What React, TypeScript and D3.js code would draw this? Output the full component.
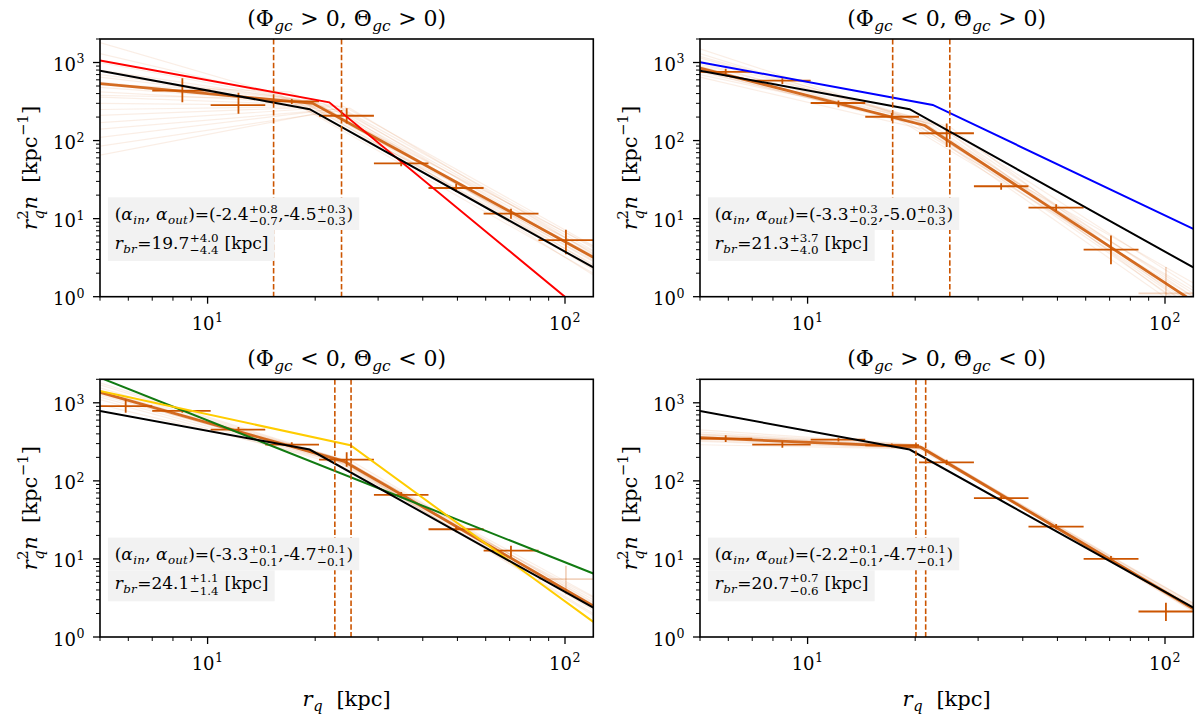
import React, { useRef, useEffect } from "react";
import * as d3 from "d3";

// radial bins in kpc
const binLo = [4.9, 7.0, 10.2, 14.5, 20.5, 29.2, 41.5, 59.2, 84.3];
const binHi = [7.0, 10.2, 14.5, 20.5, 29.2, 41.5, 59.2, 84.3, 121];
const binMid = [5.9, 8.5, 12.2, 17.2, 24.5, 34.8, 49.6, 70.6, 100.6];

// r_q^2 n per bin: [value, lower, upper], null = not shown
type Pt = [number, number, number] | null;
const pointsP1: Pt[] = [null, [435, 309, 627], [284, 220, 410], [318, 295, 340], [208, 166, 260], [51, 47, 55], [24.7, 22, 28], [11.6, 10, 13.4], [5.3, 3.5, 7.2]];
const pointsP2: Pt[] = [[760, 700, 830], [585, 530, 627], [303, 267, 325], [202, 180, 225], [124, 83, 166], [26, 23.5, 28.5], [13.8, 12.5, 15.3], [4.0, 2.6, 6.1], [1.1, 0.5, 2.4]];
const pointsP3: Pt[] = [[906, 743, 1104], [789, 745, 835], [454, 420, 490], [291, 270, 312], [187, 152, 232], [66, 60, 72], [24, 22, 26], [12.8, 10.5, 14.8], [5.5, 3.5, 8.2]];
const pointsP4: Pt[] = [[348, 315, 385], [291, 265, 320], [338, 320, 356], [286, 270, 302], [173, 160, 186], [60, 56, 64], [26, 24, 28], [10, 9.2, 10.9], [2.12, 1.6, 2.75]];

// posterior draws: [n at 5 kpc, r_br, n at r_br, n at 120 kpc]
const samplesP1 = [
  [1800, 16, 380, 2.0], [1300, 17, 350, 2.3], [1000, 18, 330, 2.6], [800, 19, 320, 2.9],
  [650, 20, 310, 3.1], [560, 19, 300, 3.4], [480, 21, 300, 3.6], [420, 22, 290, 3.9],
  [360, 20, 285, 3.2], [300, 23, 280, 4.2], [250, 24, 275, 4.5], [210, 21, 270, 2.8],
  [170, 22, 265, 2.5], [140, 25, 260, 3.5], [110, 23, 255, 2.2], [85, 24, 245, 3.0],
  [65, 22, 240, 1.9], [520, 17, 420, 4.4], [700, 16, 360, 3.8], [380, 18, 340, 2.4],
];
const samplesP2 = [
  [1500, 19, 200, 0.55], [1300, 20, 185, 0.65], [1150, 21, 175, 0.7], [1000, 20, 165, 0.8],
  [950, 22, 165, 0.85], [880, 21, 155, 0.9], [820, 23, 160, 1.0], [760, 22, 150, 1.1],
  [700, 24, 150, 1.3], [650, 21, 140, 1.5], [900, 18, 185, 1.0], [1050, 25, 150, 0.7],
  [780, 19, 170, 1.2], [1200, 23, 165, 0.6],
];
const samplesP3 = [
  [1800, 22.8, 200, 1.9], [1700, 23, 195, 2.0], [1550, 24, 185, 2.2], [1450, 24.5, 180, 2.4],
  [1380, 24, 178, 2.5], [1300, 23.5, 172, 2.6], [1250, 25, 170, 2.8], [1180, 24, 168, 3.0],
  [1100, 23, 165, 3.2], [1420, 22.5, 190, 2.3], [1320, 25.5, 175, 2.7], [950, 25.2, 160, 3.3],
];
const samplesP4 = [
  [450, 20.3, 292, 2.1], [420, 20.2, 290, 2.15], [400, 20.5, 285, 2.2], [385, 20.7, 280, 2.3],
  [370, 20.9, 275, 2.35], [358, 20.7, 270, 2.4], [345, 21.0, 265, 2.5], [330, 21.3, 260, 2.6],
  [320, 20.4, 258, 2.7], [395, 21.2, 272, 2.25], [365, 20.1, 282, 2.45], [290, 21.3, 255, 2.7],
];

// best-fit broken power laws [r, r^2 n]
const medianP1 = [[5, 535], [19.7, 300], [120, 3.2]];
const medianP2 = [[5, 845], [21.3, 156], [120, 0.87]];
const medianP3 = [[5, 1360], [24.1, 178], [120, 2.5]];
const medianP4 = [[5, 358], [20.7, 270], [120, 2.3]];

// reference models
const refModel = [[5, 785], [19.3, 252], [120, 2.37]];
const redModel = [[5, 1060], [21.9, 309], [120, 0.5]];
const blueModel = [[5, 1010], [22.4, 286], [120, 7.4]];
const greenModel = [[5, 2100], [120, 6.5]];
const goldModel = [[5, 1413], [25.1, 286], [120, 1.56]];

const titlePhi = [">", "<", "<", ">"];
const titleTheta = [">", ">", "<", "<"];
const alphaIn = [["-2.4", "+0.8", "-0.7"], ["-3.3", "+0.3", "-0.2"], ["-3.3", "+0.1", "-0.1"], ["-2.2", "+0.1", "-0.1"]];
const alphaOut = [["-4.5", "+0.3", "-0.3"], ["-5.0", "+0.3", "-0.3"], ["-4.7", "+0.1", "-0.1"], ["-4.7", "+0.1", "-0.1"]];
const rBreak = [["19.7", "+4.0", "-4.4"], ["21.3", "+3.7", "-4.0"], ["24.1", "+1.1", "-1.4"], ["20.7", "+0.7", "-0.6"]];
const rBreakBounds = [[15.3, 23.7], [17.3, 25.0], [22.7, 25.2], [20.1, 21.4]];

const xDomain: [number, number] = [5, 120];
const yDomain: [number, number] = [1, 2000];
const xMajor = [10, 100];
const xMinor = [5, 6, 7, 8, 9, 20, 30, 40, 50, 60, 70, 80, 90];
const yMajor = [1, 10, 100, 1000];
const yMinor = [2, 3, 4, 5, 6, 7, 8, 9, 20, 30, 40, 50, 60, 70, 80, 90, 200, 300, 400, 500, 600, 700, 800, 900, 2000];

const ORANGE = "#cc5500";
const FONT = "'DejaVu Serif', 'Liberation Serif', serif";

const panels = [
    { points: pointsP1, samples: samplesP1, median: medianP1, extra: [{ d: redModel, c: "#ff0000" }], faint: [] as number[] },
    { points: pointsP2, samples: samplesP2, median: medianP2, extra: [{ d: blueModel, c: "#0000ff" }], faint: [8] },
    { points: pointsP3, samples: samplesP3, median: medianP3, extra: [{ d: greenModel, c: "#117a11" }, { d: goldModel, c: "#ffcc00" }], faint: [8] },
    { points: pointsP4, samples: samplesP4, median: medianP4, extra: [], faint: [] as number[] },
];

type Run = { t?: string; it?: boolean; sup?: string; sub?: string };

const minus = (s: string) => s.replace("-", "\u2212");

// lays out a row of text pieces with sub/superscripts, returns its width
function drawMath(parent: any, runs: Run[], size: number, x: number, y: number, anchor = "start", rotate = 0) {
    const g = parent.append("g");
    const inner = g.append("g");
    let cx = 0;
    const put = (txt: string, px: number, py: number, fs: number, it: boolean) => {
        const t = inner
            .append("text")
            .attr("x", px)
            .attr("y", py)
            .attr("font-size", fs)
            .attr("font-style", it ? "italic" : "normal")
            .style("white-space", "pre")
            .text(txt);
        return (t.node() as SVGTextElement).getComputedTextLength();
    };
    runs.forEach((r) => {
        if (r.t) cx += put(r.t, cx, 0, size, !!r.it);
        let w = 0;
        const both = r.sup !== undefined && r.sub !== undefined;
        if (r.sup !== undefined) w = Math.max(w, put(r.sup, cx + 0.5, -size * 0.42, size * 0.7, /[a-z]/.test(r.sup)));
        if (r.sub !== undefined) w = Math.max(w, put(r.sub, cx + 0.5, size * (both ? 0.32 : 0.22), size * 0.7, /[a-z]/.test(r.sub)));
        if (w) cx += w + 1;
    });
    const dx = anchor === "middle" ? -cx / 2 : anchor === "end" ? -cx : 0;
    inner.attr("transform", `translate(${dx},0)`);
    g.attr("transform", `translate(${x},${y}) rotate(${rotate})`);
    return cx;
}

const App: React.FC = () => {
    const svgRef = useRef<SVGSVGElement | null>(null);

    useEffect(() => {
        if (!svgRef.current) return;
        const svg = d3.select(svgRef.current);
        svg.selectAll("*").remove();
        svg.attr("font-family", FONT);

        const PW = 493.3;
        const PH = 257.7;
        const cols = [100, 700];
        const rows = [39, 379.3];

        panels.forEach((p, i) => {
            const x0 = cols[i % 2];
            const y0 = rows[Math.floor(i / 2)];
            const x = d3.scaleLog().domain(xDomain).range([x0, x0 + PW]);
            const y = d3.scaleLog().domain(yDomain).range([y0 + PH, y0]);
            const line = d3
                .line<number[]>()
                .x((d) => x(d[0]))
                .y((d) => y(d[1]));

            svg.append("clipPath")
                .attr("id", `clip${i}`)
                .append("rect")
                .attr("x", x0)
                .attr("y", y0)
                .attr("width", PW)
                .attr("height", PH);
            const plot = svg.append("g").attr("clip-path", `url(#clip${i})`);

            // posterior draws
            p.samples.forEach((s) => {
                plot.append("path")
                    .attr("d", line([[xDomain[0], s[0]], [s[1], s[2]], [xDomain[1], s[3]]]))
                    .attr("fill", "none")
                    .attr("stroke", ORANGE)
                    .attr("stroke-opacity", 0.1)
                    .attr("stroke-width", 1.2);
            });

            plot.append("path")
                .attr("d", line(p.median))
                .attr("fill", "none")
                .attr("stroke", ORANGE)
                .attr("stroke-opacity", 0.85)
                .attr("stroke-width", 2.8);

            // binned data with error bars
            p.points.forEach((pt, j) => {
                if (!pt) return;
                const op = p.faint.includes(j) ? 0.25 : 1;
                plot.append("line")
                    .attr("x1", x(binLo[j]))
                    .attr("x2", x(binHi[j]))
                    .attr("y1", y(pt[0]))
                    .attr("y2", y(pt[0]))
                    .attr("stroke", ORANGE)
                    .attr("stroke-opacity", op)
                    .attr("stroke-width", 1.8);
                plot.append("line")
                    .attr("x1", x(binMid[j]))
                    .attr("x2", x(binMid[j]))
                    .attr("y1", y(pt[1]))
                    .attr("y2", y(pt[2]))
                    .attr("stroke", ORANGE)
                    .attr("stroke-opacity", op)
                    .attr("stroke-width", 1.8);
            });

            p.extra.forEach((e) => {
                plot.append("path")
                    .attr("d", line(e.d))
                    .attr("fill", "none")
                    .attr("stroke", e.c)
                    .attr("stroke-width", 2);
            });

            plot.append("path")
                .attr("d", line(refModel))
                .attr("fill", "none")
                .attr("stroke", "#000")
                .attr("stroke-width", 2);

            rBreakBounds[i].forEach((b) => {
                plot.append("line")
                    .attr("x1", x(b))
                    .attr("x2", x(b))
                    .attr("y1", y0)
                    .attr("y2", y0 + PH)
                    .attr("stroke", ORANGE)
                    .attr("stroke-width", 1.6)
                    .attr("stroke-dasharray", "5.5,2.4");
            });

            // fit annotation
            const ann = svg.append("g");
            const boxes = ann.append("g");
            const tx = x0 + 14.7;
            const w1 = drawMath(ann, [
                { t: "(" }, { t: "α", it: true, sub: "in" }, { t: ", " }, { t: "α", it: true, sub: "out" },
                { t: ")=(" + alphaIn[i][0], sup: alphaIn[i][1], sub: minus(alphaIn[i][2]) },
                { t: "," + alphaOut[i][0], sup: alphaOut[i][1], sub: minus(alphaOut[i][2]) }, { t: ")" },
            ], 17, tx, y0 + 181);
            const w2 = drawMath(ann, [
                { t: "r", it: true, sub: "br" }, { t: "=" + rBreak[i][0], sup: rBreak[i][1], sub: minus(rBreak[i][2]) },
                { t: " [kpc]" },
            ], 17, tx, y0 + 210);
            boxes.append("rect")
                .attr("x", x0 + 7.9).attr("y", y0 + 158.3)
                .attr("width", w1 + 13).attr("height", 32.7)
                .attr("fill", "#f2f2f2");
            boxes.append("rect")
                .attr("x", x0 + 7.9).attr("y", y0 + 191)
                .attr("width", w2 + 13).attr("height", 31)
                .attr("fill", "#f2f2f2");

            // frame
            svg.append("rect")
                .attr("x", x0).attr("y", y0)
                .attr("width", PW).attr("height", PH)
                .attr("fill", "none")
                .attr("stroke", "#000")
                .attr("stroke-width", 1.6);

            // ticks
            const tg = svg.append("g").attr("stroke", "#000");
            xMinor.forEach((v) => {
                tg.append("line").attr("x1", x(v)).attr("x2", x(v)).attr("y1", y0 + PH).attr("y2", y0 + PH + 4).attr("stroke-width", 1);
            });
            xMajor.forEach((v) => {
                tg.append("line").attr("x1", x(v)).attr("x2", x(v)).attr("y1", y0 + PH).attr("y2", y0 + PH + 7).attr("stroke-width", 1.3);
                drawMath(svg, [{ t: "10", sup: String(Math.round(Math.log10(v))) }], 18, x(v), y0 + PH + 33, "middle");
            });
            yMinor.forEach((v) => {
                tg.append("line").attr("x1", x0 - 4).attr("x2", x0).attr("y1", y(v)).attr("y2", y(v)).attr("stroke-width", 1);
            });
            yMajor.forEach((v) => {
                tg.append("line").attr("x1", x0 - 7).attr("x2", x0).attr("y1", y(v)).attr("y2", y(v)).attr("stroke-width", 1.3);
                drawMath(svg, [{ t: "10", sup: String(Math.round(Math.log10(v))) }], 18, x0 - 15, y(v) + 8.5, "end");
            });

            // title
            drawMath(svg, [
                { t: "(Φ", sub: "gc" }, { t: " " + titlePhi[i] + " 0, Θ", sub: "gc" }, { t: " " + titleTheta[i] + " 0)" },
            ], 22, x0 + PW / 2, y0 - 13, "middle");

            // axis labels
            drawMath(svg, [
                { t: "r", it: true, sup: "2", sub: "q" }, { t: "n", it: true }, { t: "  [kpc", sup: "−1" }, { t: "]" },
            ], 21, x0 - 63, y0 + PH / 2, "middle", -90);
            if (i >= 2) {
                drawMath(svg, [{ t: "r", it: true, sub: "q" }, { t: "  [kpc]" }], 21, x0 + PW / 2, y0 + PH + 69, "middle");
            }
        });
    }, []);

    return (
        <div style={{ position: "absolute", left: 0, top: 0 }}>
            <svg ref={svgRef} width={1200} height={720} style={{ display: "block", background: "#fff" }}></svg>
        </div>
    );
};

export default App;
